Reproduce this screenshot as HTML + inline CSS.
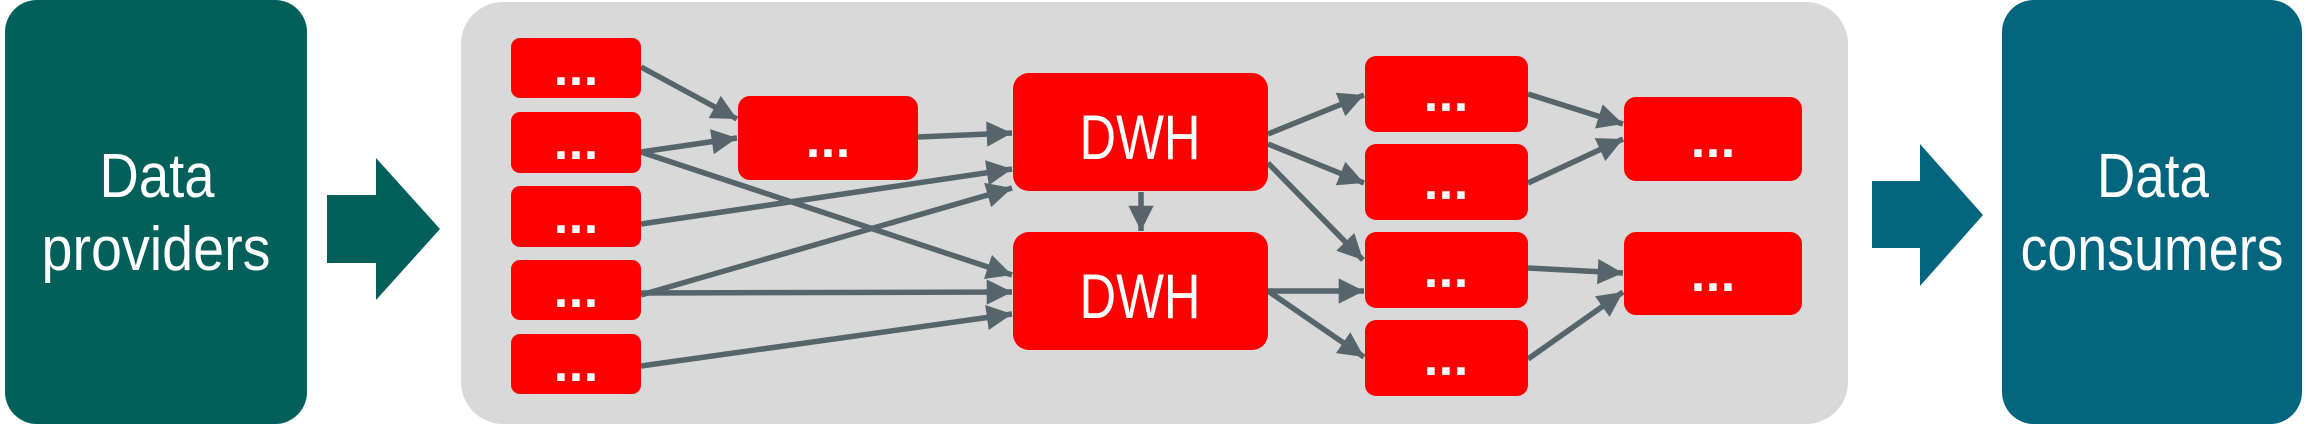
<!DOCTYPE html>
<html><head><meta charset="utf-8"><style>
html,body{margin:0;padding:0;background:#fff;}
svg{display:block;}
text{font-family:"Liberation Sans",sans-serif;fill:#fff;text-anchor:middle;}
.d{font-family:"Liberation Sans",sans-serif;font-weight:bold;font-size:52px;}
</style></head><body>
<svg width="2314" height="426" viewBox="0 0 2314 426" xmlns="http://www.w3.org/2000/svg">
<defs>
<marker id="a" viewBox="0 0 10 10" refX="10" refY="5" markerWidth="4.8" markerHeight="4.6" markerUnits="strokeWidth" orient="auto">
<path d="M0,0 L10,5 L0,10 z" fill="#56646c"/></marker>
</defs>
<rect x="5" y="0" width="302" height="424" rx="32" fill="#035f5a"/>
<text x="157" y="197" font-size="62" textLength="115" lengthAdjust="spacingAndGlyphs">Data</text>
<text x="156" y="270" font-size="62" textLength="229" lengthAdjust="spacingAndGlyphs">providers</text>
<polygon points="327,195 376,195 376,158 440,229 376,300 376,263 327,263" fill="#035f5a"/>
<rect x="461" y="2" width="1387" height="422" rx="42" fill="#d9d9d9"/>
<polygon points="1872,181 1920,181 1920,144 1983,215 1920,286 1920,248 1872,248" fill="#03657e"/>
<rect x="2002" y="0" width="300" height="424" rx="32" fill="#03657e"/>
<text x="2153" y="197" font-size="62" textLength="112" lengthAdjust="spacingAndGlyphs">Data</text>
<text x="2152" y="270" font-size="62" textLength="263" lengthAdjust="spacingAndGlyphs">consumers</text>
<g stroke="#56646c" stroke-width="5.5" fill="none" marker-end="url(#a)">
<line x1="641" y1="67" x2="737" y2="119"/>
<line x1="641" y1="152" x2="737" y2="138"/>
<line x1="641" y1="152" x2="1012" y2="275"/>
<line x1="918" y1="137" x2="1012" y2="133"/>
<line x1="641" y1="224" x2="1012" y2="169"/>
<line x1="641" y1="295" x2="1012" y2="188"/>
<line x1="641" y1="293" x2="1012" y2="292"/>
<line x1="641" y1="366" x2="1012" y2="314"/>
<line x1="1141" y1="192" x2="1141" y2="231"/>
<line x1="1268" y1="134" x2="1364" y2="95"/>
<line x1="1268" y1="144" x2="1364" y2="183"/>
<line x1="1268" y1="163" x2="1363" y2="260"/>
<line x1="1268" y1="291" x2="1364" y2="291"/>
<line x1="1268" y1="291" x2="1364" y2="357"/>
<line x1="1528" y1="94" x2="1623" y2="124"/>
<line x1="1528" y1="183" x2="1623" y2="139"/>
<line x1="1528" y1="268" x2="1623" y2="273"/>
<line x1="1528" y1="359" x2="1623" y2="292"/>
</g>
<g fill="#ff0000">
<rect x="511" y="38" width="130" height="60" rx="9"/>
<rect x="511" y="112" width="130" height="61" rx="9"/>
<rect x="511" y="186" width="130" height="61" rx="9"/>
<rect x="511" y="260" width="130" height="60" rx="9"/>
<rect x="511" y="334" width="130" height="60" rx="9"/>
<rect x="738" y="96" width="180" height="84" rx="12"/>
<rect x="1013" y="73" width="255" height="118" rx="16"/>
<rect x="1013" y="232" width="255" height="118" rx="16"/>
<rect x="1365" y="56" width="163" height="76" rx="11"/>
<rect x="1365" y="144" width="163" height="76" rx="11"/>
<rect x="1365" y="232" width="163" height="76" rx="11"/>
<rect x="1365" y="320" width="163" height="76" rx="11"/>
<rect x="1624" y="97" width="178" height="84" rx="12"/>
<rect x="1624" y="232" width="178" height="83" rx="12"/>
</g>
<g>
<text class="d" x="561 576 591" y="85">...</text>
<text class="d" x="561 576 591" y="159">...</text>
<text class="d" x="561 576 591" y="233">...</text>
<text class="d" x="561 576 591" y="307">...</text>
<text class="d" x="561 576 591" y="381">...</text>
<text class="d" x="813 828 843" y="157">...</text>
<text class="d" x="1431 1446 1461" y="111">...</text>
<text class="d" x="1431 1446 1461" y="199">...</text>
<text class="d" x="1431 1446 1461" y="287">...</text>
<text class="d" x="1431 1446 1461" y="375">...</text>
<text class="d" x="1698 1713 1728" y="157">...</text>
<text class="d" x="1698 1713 1728" y="291">...</text>
</g>
<text x="1140" y="159" font-size="63" textLength="121" lengthAdjust="spacingAndGlyphs">DWH</text>
<text x="1140" y="318" font-size="63" textLength="121" lengthAdjust="spacingAndGlyphs">DWH</text>
</svg>
</body></html>
